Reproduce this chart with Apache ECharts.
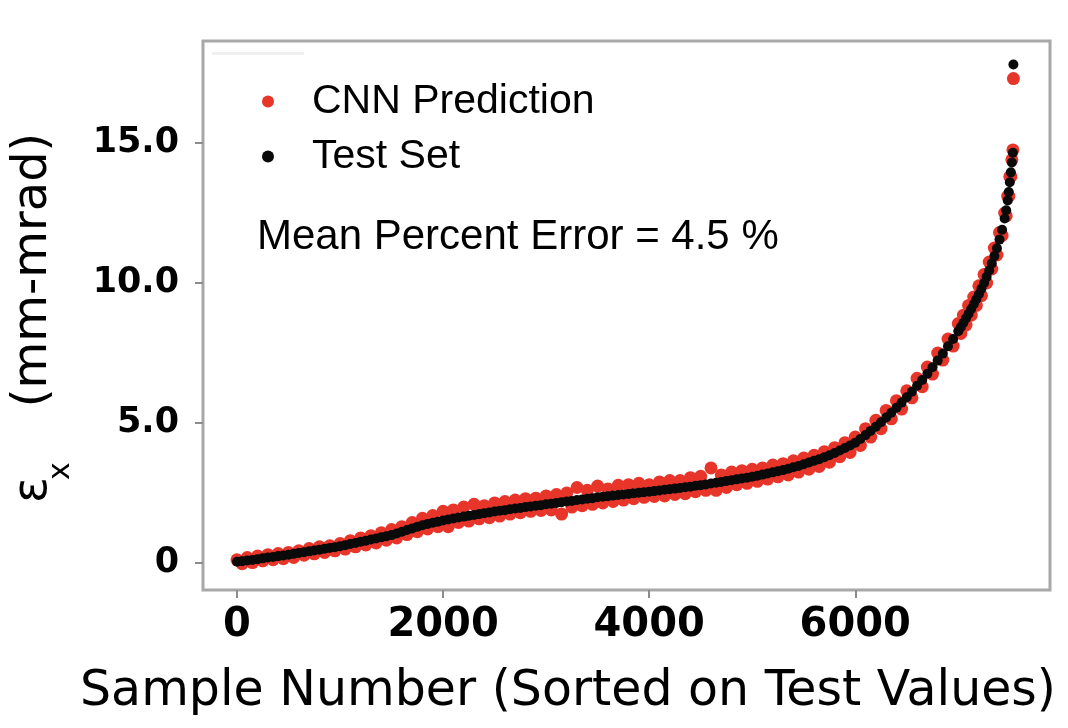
<!DOCTYPE html>
<html>
<head>
<meta charset="utf-8">
<script src="https://cdn.jsdelivr.net/npm/echarts@6/dist/echarts.min.js"></script>
<style>
  html, body { margin: 0; padding: 0; background: #fff; }
  #chart { width: 1068px; height: 728px; }
</style>
</head>
<body>
<div id="chart"></div>
<script>
// ---- data ----
const sampleIdx = [
  0,50,100,150,200,250,300,350,400,450,
  500,550,600,650,700,750,800,850,900,950,
  1000,1050,1100,1150,1200,1250,1300,1350,1400,1450,
  1500,1550,1600,1650,1700,1750,1800,1850,1900,1950,
  2000,2050,2100,2150,2200,2250,2300,2350,2400,2450,
  2500,2550,2600,2650,2700,2750,2800,2850,2900,2950,
  3000,3050,3100,3150,3200,3250,3300,3350,3400,3450,
  3500,3550,3600,3650,3700,3750,3800,3850,3900,3950,
  4000,4050,4100,4150,4200,4250,4300,4350,4400,4450,
  4500,4550,4600,4650,4700,4750,4800,4850,4900,4950,
  5000,5050,5100,5150,5200,5250,5300,5350,5400,5450,
  5500,5550,5600,5650,5700,5750,5800,5850,5900,5950,
  6000,6050,6100,6150,6200,6250,6300,6350,6400,6450,
  6500,6550,6600,6650,6700,6750,6800,6850,6900,6950,
  7000,7025,7050,7075,7100,7125,7150,7175,7200,7225,
  7250,7275,7300,7325,7350,7375,7400,7425,7450,7465,
  7480,7490,7500,7510,7520,7530,7535
];
const testVals = [
  0.05,0.07,0.09,0.11,0.14,0.17,0.2,0.22,0.25,0.27,
  0.3,0.33,0.36,0.39,0.42,0.45,0.48,0.51,0.54,0.57,
  0.6,0.64,0.68,0.72,0.76,0.8,0.84,0.88,0.92,0.96,
  1.0,1.06,1.12,1.18,1.24,1.3,1.35,1.4,1.44,1.48,
  1.52,1.56,1.59,1.63,1.66,1.69,1.72,1.75,1.78,1.81,
  1.84,1.87,1.89,1.92,1.95,1.97,2.0,2.02,2.05,2.07,
  2.1,2.12,2.15,2.17,2.2,2.22,2.25,2.27,2.3,2.32,
  2.35,2.37,2.39,2.41,2.43,2.45,2.47,2.49,2.51,2.53,
  2.55,2.57,2.59,2.62,2.64,2.66,2.68,2.71,2.73,2.76,
  2.78,2.81,2.84,2.87,2.9,2.93,2.96,2.99,3.02,3.05,
  3.08,3.12,3.16,3.2,3.24,3.28,3.32,3.37,3.42,3.47,
  3.53,3.59,3.65,3.71,3.78,3.85,3.93,4.02,4.11,4.2,
  4.3,4.43,4.57,4.72,4.87,5.03,5.2,5.37,5.55,5.73,
  5.92,6.12,6.33,6.54,6.76,6.99,7.23,7.48,7.74,8.0,
  8.28,8.43,8.58,8.74,8.9,9.07,9.24,9.42,9.6,9.8,
  10.0,10.22,10.45,10.7,10.96,11.24,11.55,11.9,12.3,12.6,
  12.95,13.25,13.6,13.95,14.3,14.65,17.8
];
const predVals = [
  0.12,-0.02,0.2,0.02,0.25,0.08,0.3,0.12,0.34,0.16,
  0.38,0.2,0.44,0.28,0.52,0.33,0.58,0.38,0.62,0.44,
  0.7,0.5,0.8,0.58,0.9,0.65,0.98,0.72,1.08,0.82,
  1.2,0.9,1.3,1.02,1.45,1.12,1.6,1.22,1.7,1.3,
  1.85,1.3,1.9,1.45,2.0,1.5,2.1,1.58,2.05,1.62,
  2.15,1.68,2.2,1.75,2.25,1.8,2.3,1.85,2.32,1.88,
  2.4,1.9,2.45,1.75,2.5,2.0,2.7,2.05,2.6,2.1,
  2.75,2.15,2.65,2.2,2.78,2.25,2.8,2.3,2.85,2.35,
  2.8,2.38,2.9,2.4,2.95,2.45,2.95,2.48,3.05,2.55,
  3.1,2.6,3.4,2.6,3.15,2.7,3.25,2.8,3.3,2.85,
  3.35,2.92,3.4,3.0,3.5,3.08,3.55,3.15,3.65,3.25,
  3.75,3.35,3.85,3.45,3.98,3.6,4.12,3.8,4.3,3.95,
  4.5,4.2,4.8,4.5,5.1,4.8,5.45,5.15,5.8,5.5,
  6.15,5.9,6.6,6.3,7.0,6.75,7.5,7.25,8.0,7.75,
  8.55,8.2,8.85,8.5,9.2,8.85,9.5,9.2,9.9,9.55,
  10.3,10.0,10.75,10.5,11.25,11.0,11.8,11.7,12.5,12.4,
  13.1,13.1,13.8,13.8,14.4,14.75,17.3
];
const xTicks = [0, 2000, 4000, 6000];
const yTicks = [0, 5, 10, 15];
const seriesNames = ['CNN Prediction', 'Test Set'];
const annotation = 'Mean Percent Error = 4.5 %';
const xTitle = 'Sample Number (Sorted on Test Values)';
const yTitleSymbol = 'ε';
const yTitleSub = 'x';
const yTitleUnit = '(mm-mrad)';

const predData = sampleIdx.map((s, i) => [s, predVals[i]]);
const testData = sampleIdx.map((s, i) => [s, testVals[i]]);

const chart = echarts.init(document.getElementById('chart'), null, { renderer: 'canvas' });
const tickStyle = { color: '#8c8c8c', width: 2 };
chart.setOption({
  animation: false,
  backgroundColor: '#fff',
  grid: {
    left: 203, top: 41, right: 18, bottom: 138,
    show: true, borderColor: '#a8a8a8', borderWidth: 3, backgroundColor: '#fff'
  },
  xAxis: {
    type: 'value', min: -330, max: 7890,
    splitLine: { show: false },
    axisLine: { show: false, onZero: false },
    axisTick: { show: true, customValues: xTicks, length: 8, lineStyle: tickStyle },
    axisLabel: {
      customValues: xTicks, margin: 16,
      fontFamily: 'DejaVu Sans', fontWeight: 'bold', fontSize: 40, color: '#000',
      formatter: v => String(v)
    }
  },
  yAxis: {
    type: 'value', min: -0.96, max: 18.64,
    splitLine: { show: false },
    axisLine: { show: false, onZero: false },
    axisTick: { show: true, customValues: yTicks, length: 8, lineStyle: tickStyle },
    axisLabel: {
      customValues: yTicks, margin: 24,
      fontFamily: 'DejaVu Sans', fontWeight: 'bold', fontSize: 35, color: '#000',
      formatter: v => (v === 0 ? '0' : v.toFixed(1))
    }
  },
  legend: {
    data: seriesNames,
    orient: 'vertical',
    left: 257, top: 76,
    itemWidth: 12, itemHeight: 12, itemGap: 14,
    textStyle: {
      fontFamily: 'Liberation Sans, Arial', fontSize: 41, color: '#000',
      lineHeight: 41, padding: [0, 0, 0, 33]
    }
  },
  graphic: [
    { type: 'rect', shape: { x: 212, y: 52, width: 92, height: 3 }, style: { fill: '#efefef' }, silent: true },
    {
      type: 'text', x: 257, y: 237,
      style: { text: annotation, font: '42px "Liberation Sans", Arial', fill: '#000', textAlign: 'left', textVerticalAlign: 'middle' }
    },
    {
      type: 'text', x: 568, y: 692,
      style: { text: xTitle, font: '49px "DejaVu Sans"', fill: '#000', textAlign: 'center', textVerticalAlign: 'middle' }
    },
    {
      type: 'text', x: 34, y: 270, rotation: Math.PI / 2,
      style: { text: yTitleUnit, font: '48px "DejaVu Sans"', fill: '#000', textAlign: 'center', textVerticalAlign: 'middle' }
    },
    {
      type: 'text', x: 34, y: 490, rotation: Math.PI / 2,
      style: { text: yTitleSymbol, font: '48px "DejaVu Sans"', fill: '#000', textAlign: 'center', textVerticalAlign: 'middle' }
    },
    {
      type: 'text', x: 61, y: 471, rotation: Math.PI / 2,
      style: { text: yTitleSub, font: '30px "DejaVu Sans"', fill: '#000', textAlign: 'center', textVerticalAlign: 'middle' }
    }
  ],
  series: [
    {
      name: seriesNames[0], type: 'scatter', data: predData,
      symbol: 'circle', symbolSize: 13,
      itemStyle: { color: '#e8352a', opacity: 1 },
      z: 2
    },
    {
      name: seriesNames[1], type: 'scatter', data: testData,
      symbol: 'circle', symbolSize: 10,
      itemStyle: { color: '#0a0a0a', opacity: 1 },
      z: 3
    }
  ]
});
</script>
</body>
</html>
